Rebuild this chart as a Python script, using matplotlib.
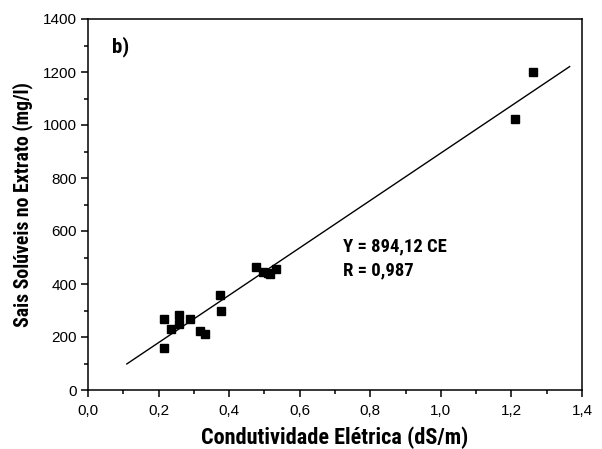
import matplotlib
matplotlib.use("Agg")
import matplotlib.pyplot as plt
from matplotlib.ticker import MultipleLocator, FuncFormatter

NARROW = ["Liberation Sans Narrow", "Arial Narrow", "Roboto Condensed", "Liberation Sans", "DejaVu Sans"]
REG = ["Liberation Sans", "DejaVu Sans"]

# data
ce = [0.215, 0.215, 0.234, 0.259, 0.259, 0.289, 0.317, 0.332, 0.374, 0.376,
      0.476, 0.497, 0.509, 0.516, 0.532, 1.21, 1.262]
sais = [267, 160, 230, 282, 249, 267, 223, 210, 357, 299,
        464, 446, 443, 438, 457, 1021, 1199]
slope = 894.12
fit_range = [0.11, 1.365]
eq_lines = ["Y = 894,12 CE", "R = 0,987"]
xlabel = "Condutividade Elétrica (dS/m)"
ylabel = "Sais Solúveis no Extrato (mg/l)"
panel = "b)"

fig = plt.figure(figsize=(6.02, 4.49), dpi=100)
ax = fig.add_axes([88/602, 1-390/449, (582-88)/602, (390-19)/449])

ax.plot(ce, sais, linestyle="none", marker="s", markersize=6, color="black")
ax.plot(fit_range, [slope*v for v in fit_range], color="black", linewidth=1.0)

ax.set_xlim(0, 1.4)
ax.set_ylim(0, 1400)
ax.xaxis.set_major_locator(MultipleLocator(0.2))
ax.xaxis.set_minor_locator(MultipleLocator(0.1))
ax.yaxis.set_major_locator(MultipleLocator(200))
ax.yaxis.set_minor_locator(MultipleLocator(100))
ax.xaxis.set_major_formatter(FuncFormatter(lambda v, p: f"{v:.1f}".replace(".", ",")))
ax.yaxis.set_major_formatter(FuncFormatter(lambda v, p: f"{int(round(v))}"))

for s in ax.spines.values():
    s.set_linewidth(1.1)
ax.tick_params(which="both", direction="out", top=False, right=False, width=1.1)
ax.tick_params(which="major", length=5)
ax.tick_params(which="minor", length=3)
ax.tick_params(axis="x", which="major", pad=5)
ax.tick_params(axis="y", which="major", pad=3)
for lab in ax.get_xticklabels() + ax.get_yticklabels():
    lab.set_fontfamily(REG)
    lab.set_fontsize(11)

ax.set_xlabel(xlabel, fontfamily=NARROW, fontweight="bold", fontsize=16, labelpad=6)
ax.set_ylabel(ylabel, fontfamily=NARROW, fontweight="bold", fontsize=14.2, labelpad=7)

ax.text(0.068, 1272, panel, fontfamily=NARROW, fontweight="bold", fontsize=15,
        ha="left", va="baseline")
ax.text(0.7226, 522, eq_lines[0], fontfamily=NARROW, fontweight="bold", fontsize=13.4,
        ha="left", va="baseline")
ax.text(0.7226, 434, eq_lines[1], fontfamily=NARROW, fontweight="bold", fontsize=13.4,
        ha="left", va="baseline")

fig.savefig("out.png", dpi=100)
